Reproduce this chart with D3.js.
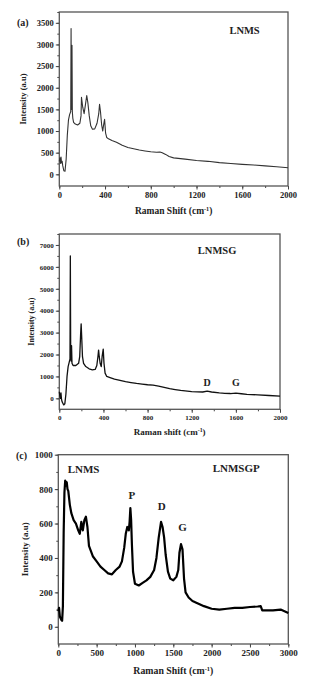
<!DOCTYPE html>
<html>
<head>
<meta charset="utf-8">
<script src="https://cdn.jsdelivr.net/npm/d3@7"></script>
<style>
  body { margin: 0; background: #fff; }
  svg text { font-family: "Liberation Serif", "DejaVu Serif", serif; font-weight: bold; fill: #222; }
</style>
</head>
<body>
<div id="chart"></div>
<script>
// panel (a) LNMS
var lnmsShift = [0,5,10,15,20,25,30,40,50,60,70,80,90,100,103,106,108,111,114,118,125,140,160,180,190,194,205,217,228,240,250,262,275,290,310,330,345,352,360,370,380,388,396,405,415,430,460,500,550,600,650,700,750,800,850,880,900,930,960,1000,1100,1200,1300,1400,1500,1600,1700,1800,1900,2000];
var lnmsIntensity = [300,380,250,400,260,300,200,80,70,350,900,1250,1380,1450,3370,1500,1780,2980,1450,1300,1200,1160,1140,1180,1350,1780,1550,1400,1600,1820,1650,1350,1120,1040,1050,1180,1400,1620,1450,1150,1000,1150,1270,950,850,820,780,740,670,620,590,560,540,520,510,515,500,460,410,380,350,320,300,270,250,230,215,195,175,150];

// panel (b) LNMSG
var lnmsgShift = [0,5,10,15,20,25,30,40,50,60,70,80,90,97,100,103,107,111,115,125,150,175,185,193,198,203,210,220,240,270,300,325,340,350,356,362,370,380,388,398,405,415,430,460,500,550,600,650,700,750,800,850,900,950,1000,1050,1100,1200,1300,1340,1380,1450,1500,1550,1600,1650,1700,1800,1900,2000];
var lnmsgIntensity = [300,100,0,250,-50,-150,-200,-300,-250,200,1000,1450,1650,1800,6500,2200,1700,2400,1600,1500,1500,1600,1900,2900,3400,2800,1900,1600,1450,1350,1300,1320,1500,1900,2200,1900,1600,1450,1900,2250,1600,1150,1000,950,880,820,760,720,680,650,620,600,560,500,440,400,360,310,290,330,290,250,230,220,240,210,180,160,130,100];

// panel (c) LNMSGP
var lnmsgpShift = [0,10,20,30,40,50,60,70,80,90,100,110,120,130,150,170,200,230,260,280,300,320,340,360,380,400,450,500,550,600,650,700,750,800,830,860,880,900,920,930,940,950,960,975,1000,1050,1100,1150,1200,1250,1280,1310,1340,1360,1380,1400,1430,1460,1500,1540,1565,1580,1600,1620,1640,1660,1700,1750,1800,1900,2000,2100,2200,2300,2400,2500,2600,2640,2660,2700,2800,2900,2950,3000];
var lnmsgpIntensity = [90,110,60,50,40,35,120,550,780,850,820,840,800,790,710,660,620,600,560,540,610,560,620,640,580,470,410,380,350,330,310,305,330,350,380,460,540,580,560,610,690,620,480,320,250,240,255,270,290,330,400,520,610,580,520,420,320,280,270,290,330,430,480,450,280,200,170,150,140,120,105,100,105,110,110,115,118,120,95,95,95,100,90,80];

// tick values
var ticksA_x = [0,400,800,1200,1600,2000], ticksA_y = [0,500,1000,1500,2000,2500,3000,3500];
var ticksB_x = [0,400,800,1200,1600,2000], ticksB_y = [0,1000,2000,3000,4000,5000,6000,7000];
var ticksC_x = [0,500,1000,1500,2000,2500,3000], ticksC_y = [0,200,400,600,800,1000];

var svg = d3.select("#chart").append("svg")
  .attr("width", 324)
  .attr("height", 689);

function drawPanel(p){
  var x = d3.scaleLinear().domain(p.xDomain).range([p.left, p.right]);
  var y = d3.scaleLinear().domain(p.yDomain).range([p.bottom, p.top]);
  var g = svg.append("g");

  // minor ticks
  g.append("g")
    .attr("transform", "translate(0," + p.bottom + ")")
    .call(d3.axisBottom(x).tickValues(d3.range(p.xDomain[0], p.xDomain[1] + 1, p.xMinor)).tickSize(2).tickFormat(""))
    .call(function(a){ a.select(".domain").remove(); });
  g.append("g")
    .attr("transform", "translate(" + p.left + ",0)")
    .call(d3.axisLeft(y).tickValues(d3.range(0, p.yDomain[1] + 1, p.yMinor)).tickSize(2).tickFormat(""))
    .call(function(a){ a.select(".domain").remove(); });

  // major ticks with labels
  var xa = g.append("g")
    .attr("transform", "translate(0," + p.bottom + ")")
    .call(d3.axisBottom(x).tickValues(p.xTicks).tickSize(3.5).tickPadding(2).tickFormat(d3.format("d")));
  xa.select(".domain").remove();
  xa.selectAll("text").attr("font-size", p.tickFont).style("font-family", null);

  var ya = g.append("g")
    .attr("transform", "translate(" + p.left + ",0)")
    .call(d3.axisLeft(y).tickValues(p.yTicks).tickSize(3.5).tickPadding(2).tickFormat(d3.format("d")));
  ya.select(".domain").remove();
  ya.selectAll("text").attr("font-size", p.tickFont).style("font-family", null);

  g.selectAll(".tick line").attr("stroke", "#444").attr("stroke-width", 1);

  // frame
  g.append("rect")
    .attr("x", p.left).attr("y", p.top)
    .attr("width", p.right - p.left).attr("height", p.bottom - p.top)
    .attr("fill", "none").attr("stroke", "#555").attr("stroke-width", 1.3);

  // spectrum
  var line = d3.line().x(function(d, i){ return x(p.xs[i]); }).y(function(d){ return y(d); });
  g.append("path")
    .datum(p.ys)
    .attr("d", line)
    .attr("fill", "none")
    .attr("stroke", p.color)
    .attr("stroke-width", p.lineWidth)
    .attr("stroke-linejoin", "round");

  // labels
  g.append("text")
    .attr("x", (p.left + p.right) / 2)
    .attr("y", p.xLabelY)
    .attr("font-size", p.labelFont)
    .style("text-anchor", "middle")
    .text(p.xLabel)
    .append("tspan").attr("dy", -3).attr("font-size", p.labelFont * 0.65).text("-1")
    .select(function(){ return this.parentNode; })
    .append("tspan").attr("dy", 3).text(")");

  g.append("text")
    .attr("transform", "translate(" + p.yLabelX + "," + ((p.top + p.bottom) / 2) + ") rotate(-90)")
    .attr("font-size", p.yLabelFont)
    .style("text-anchor", "middle")
    .text("Intensity (a.u)");

  g.append("text")
    .attr("x", p.tagX).attr("y", p.tagY)
    .attr("font-size", 10)
    .text(p.tag);

  p.notes.forEach(function(n){
    g.append("text")
      .attr("x", x(n.x)).attr("y", y(n.y))
      .attr("font-size", n.size)
      .style("text-anchor", n.anchor || "middle")
      .text(n.text);
  });
}

drawPanel({
  left: 59.3, right: 288, top: 12, bottom: 186,
  xDomain: [0, 2000], yDomain: [-270, 3750],
  xTicks: ticksA_x, yTicks: ticksA_y, xMinor: 200, yMinor: 250,
  xs: lnmsShift, ys: lnmsIntensity, color: "#333", lineWidth: 1.1,
  tickFont: 8.5, labelFont: 9.5, yLabelFont: 8.5,
  xLabel: "Raman Shift (cm", xLabelY: 214, yLabelX: 26,
  tag: "(a)", tagX: 17, tagY: 26,
  notes: [{ text: "LNMS", x: 1620, y: 3250, size: 10.5 }]
});

drawPanel({
  left: 59.3, right: 280, top: 234, bottom: 409.3,
  xDomain: [0, 2000], yDomain: [-500, 7500],
  xTicks: ticksB_x, yTicks: ticksB_y, xMinor: 200, yMinor: 500,
  xs: lnmsgShift, ys: lnmsgIntensity, color: "#111", lineWidth: 1.3,
  tickFont: 7, labelFont: 9, yLabelFont: 8,
  xLabel: "Raman shift (cm", xLabelY: 435, yLabelX: 34,
  tag: "(b)", tagX: 17, tagY: 245,
  notes: [
    { text: "LNMSG", x: 1430, y: 6600, size: 10.5 },
    { text: "D", x: 1340, y: 550, size: 10 },
    { text: "G", x: 1600, y: 550, size: 10 }
  ]
});

drawPanel({
  left: 58.3, right: 288.3, top: 454.7, bottom: 644,
  xDomain: [0, 3000], yDomain: [-100, 1000],
  xTicks: ticksC_x, yTicks: ticksC_y, xMinor: 250, yMinor: 100,
  xs: lnmsgpShift, ys: lnmsgpIntensity, color: "#000", lineWidth: 2.2,
  tickFont: 9, labelFont: 9.8, yLabelFont: 9,
  xLabel: "Raman Shift (cm", xLabelY: 674, yLabelX: 28,
  tag: "(c)", tagX: 16, tagY: 459,
  notes: [
    { text: "LNMSGP", x: 2320, y: 900, size: 11 },
    { text: "LNMS", x: 330, y: 895, size: 11 },
    { text: "P", x: 960, y: 740, size: 11 },
    { text: "D", x: 1350, y: 680, size: 11 },
    { text: "G", x: 1620, y: 555, size: 11 }
  ]
});
</script>
</body>
</html>
